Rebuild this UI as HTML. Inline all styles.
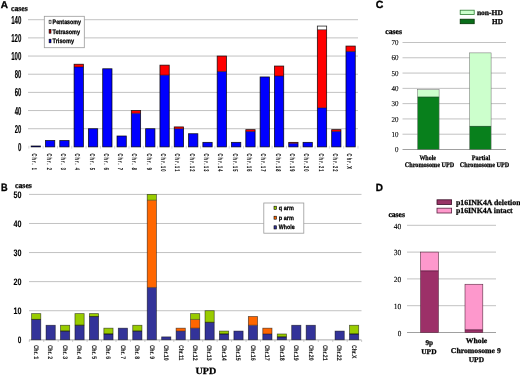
<!DOCTYPE html>
<html><head><meta charset="utf-8"><title>UPD figure</title>
<style>
html,body{margin:0;padding:0;background:#fff;}
body{width:520px;height:375px;overflow:hidden;font-family:"Liberation Sans", sans-serif;}
svg{display:block;will-change:transform;text-rendering:geometricPrecision;filter:blur(0.3px);}
</style></head>
<body>
<svg width="520" height="375" viewBox="0 0 520 375">
<rect x="0" y="0" width="520" height="375" fill="#fff"/>
<text x="0.8" y="7.9" font-size="10" font-family='"Liberation Sans", sans-serif' font-weight="bold" textLength="7.2" lengthAdjust="spacingAndGlyphs" stroke="#000" stroke-width="0.35">A</text>
<text x="11" y="10.8" font-size="8" font-family='"Liberation Serif", serif' font-weight="bold" textLength="16.7" lengthAdjust="spacingAndGlyphs" stroke="#000" stroke-width="0.26">cases</text>
<line x1="28" y1="128.73" x2="358" y2="128.73" stroke="#c2c2c2" stroke-width="1"/>
<line x1="28" y1="110.56" x2="358" y2="110.56" stroke="#c2c2c2" stroke-width="1"/>
<line x1="28" y1="92.39" x2="358" y2="92.39" stroke="#c2c2c2" stroke-width="1"/>
<line x1="28" y1="74.22" x2="358" y2="74.22" stroke="#c2c2c2" stroke-width="1"/>
<line x1="28" y1="56.05" x2="358" y2="56.05" stroke="#c2c2c2" stroke-width="1"/>
<line x1="28" y1="37.88" x2="358" y2="37.88" stroke="#c2c2c2" stroke-width="1"/>
<line x1="28" y1="19.71" x2="358" y2="19.71" stroke="#c2c2c2" stroke-width="1"/>
<line x1="28.85" y1="145.8" x2="28.85" y2="148.6" stroke="#c4c4c4" stroke-width="0.7"/>
<line x1="43.16" y1="145.8" x2="43.16" y2="148.6" stroke="#c4c4c4" stroke-width="0.7"/>
<line x1="57.47" y1="145.8" x2="57.47" y2="148.6" stroke="#c4c4c4" stroke-width="0.7"/>
<line x1="71.78" y1="145.8" x2="71.78" y2="148.6" stroke="#c4c4c4" stroke-width="0.7"/>
<line x1="86.09" y1="145.8" x2="86.09" y2="148.6" stroke="#c4c4c4" stroke-width="0.7"/>
<line x1="100.4" y1="145.8" x2="100.4" y2="148.6" stroke="#c4c4c4" stroke-width="0.7"/>
<line x1="114.71" y1="145.8" x2="114.71" y2="148.6" stroke="#c4c4c4" stroke-width="0.7"/>
<line x1="129.02" y1="145.8" x2="129.02" y2="148.6" stroke="#c4c4c4" stroke-width="0.7"/>
<line x1="143.33" y1="145.8" x2="143.33" y2="148.6" stroke="#c4c4c4" stroke-width="0.7"/>
<line x1="157.64" y1="145.8" x2="157.64" y2="148.6" stroke="#c4c4c4" stroke-width="0.7"/>
<line x1="171.95" y1="145.8" x2="171.95" y2="148.6" stroke="#c4c4c4" stroke-width="0.7"/>
<line x1="186.26" y1="145.8" x2="186.26" y2="148.6" stroke="#c4c4c4" stroke-width="0.7"/>
<line x1="200.57" y1="145.8" x2="200.57" y2="148.6" stroke="#c4c4c4" stroke-width="0.7"/>
<line x1="214.88" y1="145.8" x2="214.88" y2="148.6" stroke="#c4c4c4" stroke-width="0.7"/>
<line x1="229.19" y1="145.8" x2="229.19" y2="148.6" stroke="#c4c4c4" stroke-width="0.7"/>
<line x1="243.5" y1="145.8" x2="243.5" y2="148.6" stroke="#c4c4c4" stroke-width="0.7"/>
<line x1="257.81" y1="145.8" x2="257.81" y2="148.6" stroke="#c4c4c4" stroke-width="0.7"/>
<line x1="272.12" y1="145.8" x2="272.12" y2="148.6" stroke="#c4c4c4" stroke-width="0.7"/>
<line x1="286.43" y1="145.8" x2="286.43" y2="148.6" stroke="#c4c4c4" stroke-width="0.7"/>
<line x1="300.74" y1="145.8" x2="300.74" y2="148.6" stroke="#c4c4c4" stroke-width="0.7"/>
<line x1="315.05" y1="145.8" x2="315.05" y2="148.6" stroke="#c4c4c4" stroke-width="0.7"/>
<line x1="329.36" y1="145.8" x2="329.36" y2="148.6" stroke="#c4c4c4" stroke-width="0.7"/>
<line x1="343.67" y1="145.8" x2="343.67" y2="148.6" stroke="#c4c4c4" stroke-width="0.7"/>
<line x1="357.98" y1="145.8" x2="357.98" y2="148.6" stroke="#c4c4c4" stroke-width="0.7"/>
<text x="18" y="150.9" font-size="11.5" font-family='"Liberation Sans", sans-serif' font-weight="bold" textLength="3.4" lengthAdjust="spacingAndGlyphs" stroke="#000" stroke-width="0.15">0</text>
<text x="14.8" y="132.73" font-size="11.5" font-family='"Liberation Sans", sans-serif' font-weight="bold" textLength="6.6" lengthAdjust="spacingAndGlyphs" stroke="#000" stroke-width="0.15">20</text>
<text x="14.8" y="114.56" font-size="11.5" font-family='"Liberation Sans", sans-serif' font-weight="bold" textLength="6.6" lengthAdjust="spacingAndGlyphs" stroke="#000" stroke-width="0.15">40</text>
<text x="14.8" y="96.39" font-size="11.5" font-family='"Liberation Sans", sans-serif' font-weight="bold" textLength="6.6" lengthAdjust="spacingAndGlyphs" stroke="#000" stroke-width="0.15">60</text>
<text x="14.8" y="78.22" font-size="11.5" font-family='"Liberation Sans", sans-serif' font-weight="bold" textLength="6.6" lengthAdjust="spacingAndGlyphs" stroke="#000" stroke-width="0.15">80</text>
<text x="11.2" y="60.05" font-size="11.5" font-family='"Liberation Sans", sans-serif' font-weight="bold" textLength="10.2" lengthAdjust="spacingAndGlyphs" stroke="#000" stroke-width="0.15">100</text>
<text x="11.2" y="41.88" font-size="11.5" font-family='"Liberation Sans", sans-serif' font-weight="bold" textLength="10.2" lengthAdjust="spacingAndGlyphs" stroke="#000" stroke-width="0.15">120</text>
<text x="11.2" y="23.71" font-size="11.5" font-family='"Liberation Sans", sans-serif' font-weight="bold" textLength="10.2" lengthAdjust="spacingAndGlyphs" stroke="#000" stroke-width="0.15">140</text>
<rect x="31.15" y="145.99" width="9.3" height="0.91" fill="#0000ff"/>
<rect x="31.15" y="145.99" width="9.3" height="0.91" fill="none" stroke="#000" stroke-width="0.8" stroke-opacity="0.85"/>
<rect x="45.46" y="140.54" width="9.3" height="6.36" fill="#0000ff"/>
<rect x="45.46" y="140.54" width="9.3" height="6.36" fill="none" stroke="#000" stroke-width="0.8" stroke-opacity="0.85"/>
<rect x="59.77" y="140.54" width="9.3" height="6.36" fill="#0000ff"/>
<rect x="59.77" y="140.54" width="9.3" height="6.36" fill="none" stroke="#000" stroke-width="0.8" stroke-opacity="0.85"/>
<rect x="74.08" y="66.95" width="9.3" height="79.95" fill="#0000ff"/>
<rect x="74.08" y="64.23" width="9.3" height="2.73" fill="#ff0000"/>
<line x1="74.08" y1="66.95" x2="83.38" y2="66.95" stroke="#000" stroke-opacity="0.7" stroke-width="0.7"/>
<rect x="74.08" y="64.23" width="9.3" height="82.67" fill="none" stroke="#000" stroke-width="0.8" stroke-opacity="0.85"/>
<rect x="88.39" y="128.73" width="9.3" height="18.17" fill="#0000ff"/>
<rect x="88.39" y="128.73" width="9.3" height="18.17" fill="none" stroke="#000" stroke-width="0.8" stroke-opacity="0.85"/>
<rect x="102.7" y="68.77" width="9.3" height="78.13" fill="#0000ff"/>
<rect x="102.7" y="68.77" width="9.3" height="78.13" fill="none" stroke="#000" stroke-width="0.8" stroke-opacity="0.85"/>
<rect x="117.01" y="136" width="9.3" height="10.9" fill="#0000ff"/>
<rect x="117.01" y="136" width="9.3" height="10.9" fill="none" stroke="#000" stroke-width="0.8" stroke-opacity="0.85"/>
<rect x="131.32" y="113.29" width="9.3" height="33.61" fill="#0000ff"/>
<rect x="131.32" y="110.56" width="9.3" height="2.73" fill="#ff0000"/>
<line x1="131.32" y1="113.29" x2="140.62" y2="113.29" stroke="#000" stroke-opacity="0.7" stroke-width="0.7"/>
<rect x="131.32" y="110.56" width="9.3" height="36.34" fill="none" stroke="#000" stroke-width="0.8" stroke-opacity="0.85"/>
<rect x="145.63" y="128.73" width="9.3" height="18.17" fill="#0000ff"/>
<rect x="145.63" y="128.73" width="9.3" height="18.17" fill="none" stroke="#000" stroke-width="0.8" stroke-opacity="0.85"/>
<rect x="159.94" y="75.13" width="9.3" height="71.77" fill="#0000ff"/>
<rect x="159.94" y="65.14" width="9.3" height="9.99" fill="#ff0000"/>
<line x1="159.94" y1="75.13" x2="169.24" y2="75.13" stroke="#000" stroke-opacity="0.7" stroke-width="0.7"/>
<rect x="159.94" y="65.14" width="9.3" height="81.77" fill="none" stroke="#000" stroke-width="0.8" stroke-opacity="0.85"/>
<rect x="174.25" y="128.73" width="9.3" height="18.17" fill="#0000ff"/>
<rect x="174.25" y="126.91" width="9.3" height="1.82" fill="#ff0000"/>
<line x1="174.25" y1="128.73" x2="183.55" y2="128.73" stroke="#000" stroke-opacity="0.7" stroke-width="0.7"/>
<rect x="174.25" y="126.91" width="9.3" height="19.99" fill="none" stroke="#000" stroke-width="0.8" stroke-opacity="0.85"/>
<rect x="188.56" y="133.73" width="9.3" height="13.17" fill="#0000ff"/>
<rect x="188.56" y="133.73" width="9.3" height="13.17" fill="none" stroke="#000" stroke-width="0.8" stroke-opacity="0.85"/>
<rect x="202.87" y="142.36" width="9.3" height="4.54" fill="#0000ff"/>
<rect x="202.87" y="142.36" width="9.3" height="4.54" fill="none" stroke="#000" stroke-width="0.8" stroke-opacity="0.85"/>
<rect x="217.18" y="71.49" width="9.3" height="75.41" fill="#0000ff"/>
<rect x="217.18" y="56.05" width="9.3" height="15.44" fill="#ff0000"/>
<line x1="217.18" y1="71.49" x2="226.48" y2="71.49" stroke="#000" stroke-opacity="0.7" stroke-width="0.7"/>
<rect x="217.18" y="56.05" width="9.3" height="90.85" fill="none" stroke="#000" stroke-width="0.8" stroke-opacity="0.85"/>
<rect x="231.49" y="142.36" width="9.3" height="4.54" fill="#0000ff"/>
<rect x="231.49" y="142.36" width="9.3" height="4.54" fill="none" stroke="#000" stroke-width="0.8" stroke-opacity="0.85"/>
<rect x="245.8" y="131.46" width="9.3" height="15.44" fill="#0000ff"/>
<rect x="245.8" y="129.64" width="9.3" height="1.82" fill="#ff0000"/>
<line x1="245.8" y1="131.46" x2="255.1" y2="131.46" stroke="#000" stroke-opacity="0.7" stroke-width="0.7"/>
<rect x="245.8" y="129.64" width="9.3" height="17.26" fill="none" stroke="#000" stroke-width="0.8" stroke-opacity="0.85"/>
<rect x="260.11" y="76.95" width="9.3" height="69.95" fill="#0000ff"/>
<rect x="260.11" y="76.95" width="9.3" height="69.95" fill="none" stroke="#000" stroke-width="0.8" stroke-opacity="0.85"/>
<rect x="274.42" y="76.04" width="9.3" height="70.86" fill="#0000ff"/>
<rect x="274.42" y="66.04" width="9.3" height="9.99" fill="#ff0000"/>
<line x1="274.42" y1="76.04" x2="283.72" y2="76.04" stroke="#000" stroke-opacity="0.7" stroke-width="0.7"/>
<rect x="274.42" y="66.04" width="9.3" height="80.86" fill="none" stroke="#000" stroke-width="0.8" stroke-opacity="0.85"/>
<rect x="288.73" y="143.27" width="9.3" height="3.63" fill="#0000ff"/>
<rect x="288.73" y="142.36" width="9.3" height="0.91" fill="#ff0000"/>
<line x1="288.73" y1="143.27" x2="298.03" y2="143.27" stroke="#000" stroke-opacity="0.7" stroke-width="0.7"/>
<rect x="288.73" y="142.36" width="9.3" height="4.54" fill="none" stroke="#000" stroke-width="0.8" stroke-opacity="0.85"/>
<rect x="303.04" y="142.36" width="9.3" height="4.54" fill="#0000ff"/>
<rect x="303.04" y="142.36" width="9.3" height="4.54" fill="none" stroke="#000" stroke-width="0.8" stroke-opacity="0.85"/>
<rect x="317.35" y="107.83" width="9.3" height="39.07" fill="#0000ff"/>
<rect x="317.35" y="29.7" width="9.3" height="78.13" fill="#ff0000"/>
<rect x="317.35" y="26.07" width="9.3" height="3.63" fill="#ffffff"/>
<line x1="317.35" y1="107.83" x2="326.65" y2="107.83" stroke="#000" stroke-opacity="0.7" stroke-width="0.7"/>
<line x1="317.35" y1="29.7" x2="326.65" y2="29.7" stroke="#000" stroke-opacity="0.7" stroke-width="0.7"/>
<rect x="317.35" y="26.07" width="9.3" height="120.83" fill="none" stroke="#000" stroke-width="0.8" stroke-opacity="0.85"/>
<rect x="331.66" y="131.46" width="9.3" height="15.44" fill="#0000ff"/>
<rect x="331.66" y="129.64" width="9.3" height="1.82" fill="#ff0000"/>
<line x1="331.66" y1="131.46" x2="340.96" y2="131.46" stroke="#000" stroke-opacity="0.7" stroke-width="0.7"/>
<rect x="331.66" y="129.64" width="9.3" height="17.26" fill="none" stroke="#000" stroke-width="0.8" stroke-opacity="0.85"/>
<rect x="345.97" y="51.51" width="9.3" height="95.39" fill="#0000ff"/>
<rect x="345.97" y="46.06" width="9.3" height="5.45" fill="#ff0000"/>
<line x1="345.97" y1="51.51" x2="355.27" y2="51.51" stroke="#000" stroke-opacity="0.7" stroke-width="0.7"/>
<rect x="345.97" y="46.06" width="9.3" height="100.84" fill="none" stroke="#000" stroke-width="0.8" stroke-opacity="0.85"/>
<text transform="translate(32.3,153.6) rotate(90) scale(0.55,1)" font-size="7" font-family='"Liberation Sans", sans-serif' font-weight="bold" fill="#111" stroke="#111" stroke-width="0.12" vector-effect="non-scaling-stroke" textLength="29.82" lengthAdjust="spacing">Chr. 1</text>
<text transform="translate(46.61,153.6) rotate(90) scale(0.55,1)" font-size="7" font-family='"Liberation Sans", sans-serif' font-weight="bold" fill="#111" stroke="#111" stroke-width="0.12" vector-effect="non-scaling-stroke" textLength="29.82" lengthAdjust="spacing">Chr. 2</text>
<text transform="translate(60.92,153.6) rotate(90) scale(0.55,1)" font-size="7" font-family='"Liberation Sans", sans-serif' font-weight="bold" fill="#111" stroke="#111" stroke-width="0.12" vector-effect="non-scaling-stroke" textLength="29.82" lengthAdjust="spacing">Chr. 3</text>
<text transform="translate(75.23,153.6) rotate(90) scale(0.55,1)" font-size="7" font-family='"Liberation Sans", sans-serif' font-weight="bold" fill="#111" stroke="#111" stroke-width="0.12" vector-effect="non-scaling-stroke" textLength="29.82" lengthAdjust="spacing">Chr. 4</text>
<text transform="translate(89.54,153.6) rotate(90) scale(0.55,1)" font-size="7" font-family='"Liberation Sans", sans-serif' font-weight="bold" fill="#111" stroke="#111" stroke-width="0.12" vector-effect="non-scaling-stroke" textLength="29.82" lengthAdjust="spacing">Chr. 5</text>
<text transform="translate(103.85,153.6) rotate(90) scale(0.55,1)" font-size="7" font-family='"Liberation Sans", sans-serif' font-weight="bold" fill="#111" stroke="#111" stroke-width="0.12" vector-effect="non-scaling-stroke" textLength="29.82" lengthAdjust="spacing">Chr. 6</text>
<text transform="translate(118.16,153.6) rotate(90) scale(0.55,1)" font-size="7" font-family='"Liberation Sans", sans-serif' font-weight="bold" fill="#111" stroke="#111" stroke-width="0.12" vector-effect="non-scaling-stroke" textLength="29.82" lengthAdjust="spacing">Chr. 7</text>
<text transform="translate(132.47,153.6) rotate(90) scale(0.55,1)" font-size="7" font-family='"Liberation Sans", sans-serif' font-weight="bold" fill="#111" stroke="#111" stroke-width="0.12" vector-effect="non-scaling-stroke" textLength="29.82" lengthAdjust="spacing">Chr. 8</text>
<text transform="translate(146.78,153.6) rotate(90) scale(0.55,1)" font-size="7" font-family='"Liberation Sans", sans-serif' font-weight="bold" fill="#111" stroke="#111" stroke-width="0.12" vector-effect="non-scaling-stroke" textLength="29.82" lengthAdjust="spacing">Chr. 9</text>
<text transform="translate(161.09,153.6) rotate(90) scale(0.55,1)" font-size="7" font-family='"Liberation Sans", sans-serif' font-weight="bold" fill="#111" stroke="#111" stroke-width="0.12" vector-effect="non-scaling-stroke" textLength="32.36" lengthAdjust="spacing">Chr.10</text>
<text transform="translate(175.4,153.6) rotate(90) scale(0.55,1)" font-size="7" font-family='"Liberation Sans", sans-serif' font-weight="bold" fill="#111" stroke="#111" stroke-width="0.12" vector-effect="non-scaling-stroke" textLength="32.36" lengthAdjust="spacing">Chr.11</text>
<text transform="translate(189.71,153.6) rotate(90) scale(0.55,1)" font-size="7" font-family='"Liberation Sans", sans-serif' font-weight="bold" fill="#111" stroke="#111" stroke-width="0.12" vector-effect="non-scaling-stroke" textLength="32.36" lengthAdjust="spacing">Chr.12</text>
<text transform="translate(204.02,153.6) rotate(90) scale(0.55,1)" font-size="7" font-family='"Liberation Sans", sans-serif' font-weight="bold" fill="#111" stroke="#111" stroke-width="0.12" vector-effect="non-scaling-stroke" textLength="32.36" lengthAdjust="spacing">Chr.13</text>
<text transform="translate(218.33,153.6) rotate(90) scale(0.55,1)" font-size="7" font-family='"Liberation Sans", sans-serif' font-weight="bold" fill="#111" stroke="#111" stroke-width="0.12" vector-effect="non-scaling-stroke" textLength="32.36" lengthAdjust="spacing">Chr.14</text>
<text transform="translate(232.64,153.6) rotate(90) scale(0.55,1)" font-size="7" font-family='"Liberation Sans", sans-serif' font-weight="bold" fill="#111" stroke="#111" stroke-width="0.12" vector-effect="non-scaling-stroke" textLength="32.36" lengthAdjust="spacing">Chr.15</text>
<text transform="translate(246.95,153.6) rotate(90) scale(0.55,1)" font-size="7" font-family='"Liberation Sans", sans-serif' font-weight="bold" fill="#111" stroke="#111" stroke-width="0.12" vector-effect="non-scaling-stroke" textLength="32.36" lengthAdjust="spacing">Chr.16</text>
<text transform="translate(261.26,153.6) rotate(90) scale(0.55,1)" font-size="7" font-family='"Liberation Sans", sans-serif' font-weight="bold" fill="#111" stroke="#111" stroke-width="0.12" vector-effect="non-scaling-stroke" textLength="32.36" lengthAdjust="spacing">Chr.17</text>
<text transform="translate(275.57,153.6) rotate(90) scale(0.55,1)" font-size="7" font-family='"Liberation Sans", sans-serif' font-weight="bold" fill="#111" stroke="#111" stroke-width="0.12" vector-effect="non-scaling-stroke" textLength="32.36" lengthAdjust="spacing">Chr.18</text>
<text transform="translate(289.88,153.6) rotate(90) scale(0.55,1)" font-size="7" font-family='"Liberation Sans", sans-serif' font-weight="bold" fill="#111" stroke="#111" stroke-width="0.12" vector-effect="non-scaling-stroke" textLength="32.36" lengthAdjust="spacing">Chr.19</text>
<text transform="translate(304.19,153.6) rotate(90) scale(0.55,1)" font-size="7" font-family='"Liberation Sans", sans-serif' font-weight="bold" fill="#111" stroke="#111" stroke-width="0.12" vector-effect="non-scaling-stroke" textLength="32.36" lengthAdjust="spacing">Chr.20</text>
<text transform="translate(318.5,153.6) rotate(90) scale(0.55,1)" font-size="7" font-family='"Liberation Sans", sans-serif' font-weight="bold" fill="#111" stroke="#111" stroke-width="0.12" vector-effect="non-scaling-stroke" textLength="32.36" lengthAdjust="spacing">Chr.21</text>
<text transform="translate(332.81,153.6) rotate(90) scale(0.55,1)" font-size="7" font-family='"Liberation Sans", sans-serif' font-weight="bold" fill="#111" stroke="#111" stroke-width="0.12" vector-effect="non-scaling-stroke" textLength="32.36" lengthAdjust="spacing">Chr.22</text>
<text transform="translate(347.12,153.6) rotate(90) scale(0.55,1)" font-size="7" font-family='"Liberation Sans", sans-serif' font-weight="bold" fill="#111" stroke="#111" stroke-width="0.12" vector-effect="non-scaling-stroke" textLength="27.82" lengthAdjust="spacing">Chr.X</text>
<rect x="44.3" y="16.3" width="40" height="31.4" fill="#fff" stroke="#9a9a9a" stroke-width="0.8"/>
<rect x="49.1" y="20.2" width="1.9" height="3.3" fill="#fff" stroke="#000" stroke-width="0.6"/>
<rect x="49.1" y="29.6" width="1.9" height="3.6" fill="#b00000" stroke="#000" stroke-width="0.6"/>
<rect x="49.1" y="39.2" width="1.9" height="3.6" fill="#0000d0" stroke="#000" stroke-width="0.6"/>
<text x="52.6" y="23.6" font-size="6.4" font-family='"Liberation Sans", sans-serif' font-weight="bold" textLength="28.4" lengthAdjust="spacingAndGlyphs" stroke="#000" stroke-width="0.26">Pentasomy</text>
<text x="52.6" y="33.6" font-size="6.4" font-family='"Liberation Sans", sans-serif' font-weight="bold" textLength="27.4" lengthAdjust="spacingAndGlyphs" stroke="#000" stroke-width="0.26">Tetrasomy</text>
<text x="52.6" y="42.9" font-size="6.4" font-family='"Liberation Sans", sans-serif' font-weight="bold" textLength="21.4" lengthAdjust="spacingAndGlyphs" stroke="#000" stroke-width="0.26">Trisomy</text>
<text x="0.9" y="191" font-size="10.6" font-family='"Liberation Sans", sans-serif' font-weight="bold" textLength="6.6" lengthAdjust="spacingAndGlyphs" stroke="#000" stroke-width="0.35">B</text>
<text x="15" y="188.4" font-size="8" font-family='"Liberation Serif", serif' font-weight="bold" textLength="16.9" lengthAdjust="spacingAndGlyphs" stroke="#000" stroke-width="0.26">cases</text>
<line x1="29" y1="310.72" x2="361.5" y2="310.72" stroke="#c2c2c2" stroke-width="1"/>
<line x1="29" y1="281.64" x2="361.5" y2="281.64" stroke="#c2c2c2" stroke-width="1"/>
<line x1="29" y1="252.56" x2="361.5" y2="252.56" stroke="#c2c2c2" stroke-width="1"/>
<line x1="29" y1="223.48" x2="361.5" y2="223.48" stroke="#c2c2c2" stroke-width="1"/>
<line x1="29" y1="194.4" x2="361.5" y2="194.4" stroke="#c2c2c2" stroke-width="1"/>
<line x1="29" y1="339.9" x2="361.5" y2="339.9" stroke="#aaaaaa" stroke-width="1"/>
<line x1="29.3" y1="340" x2="29.3" y2="342" stroke="#aaa" stroke-width="0.6"/>
<line x1="43.75" y1="340" x2="43.75" y2="342" stroke="#aaa" stroke-width="0.6"/>
<line x1="58.2" y1="340" x2="58.2" y2="342" stroke="#aaa" stroke-width="0.6"/>
<line x1="72.65" y1="340" x2="72.65" y2="342" stroke="#aaa" stroke-width="0.6"/>
<line x1="87.1" y1="340" x2="87.1" y2="342" stroke="#aaa" stroke-width="0.6"/>
<line x1="101.55" y1="340" x2="101.55" y2="342" stroke="#aaa" stroke-width="0.6"/>
<line x1="116" y1="340" x2="116" y2="342" stroke="#aaa" stroke-width="0.6"/>
<line x1="130.45" y1="340" x2="130.45" y2="342" stroke="#aaa" stroke-width="0.6"/>
<line x1="144.9" y1="340" x2="144.9" y2="342" stroke="#aaa" stroke-width="0.6"/>
<line x1="159.35" y1="340" x2="159.35" y2="342" stroke="#aaa" stroke-width="0.6"/>
<line x1="173.8" y1="340" x2="173.8" y2="342" stroke="#aaa" stroke-width="0.6"/>
<line x1="188.25" y1="340" x2="188.25" y2="342" stroke="#aaa" stroke-width="0.6"/>
<line x1="202.7" y1="340" x2="202.7" y2="342" stroke="#aaa" stroke-width="0.6"/>
<line x1="217.15" y1="340" x2="217.15" y2="342" stroke="#aaa" stroke-width="0.6"/>
<line x1="231.6" y1="340" x2="231.6" y2="342" stroke="#aaa" stroke-width="0.6"/>
<line x1="246.05" y1="340" x2="246.05" y2="342" stroke="#aaa" stroke-width="0.6"/>
<line x1="260.5" y1="340" x2="260.5" y2="342" stroke="#aaa" stroke-width="0.6"/>
<line x1="274.95" y1="340" x2="274.95" y2="342" stroke="#aaa" stroke-width="0.6"/>
<line x1="289.4" y1="340" x2="289.4" y2="342" stroke="#aaa" stroke-width="0.6"/>
<line x1="303.85" y1="340" x2="303.85" y2="342" stroke="#aaa" stroke-width="0.6"/>
<line x1="318.3" y1="340" x2="318.3" y2="342" stroke="#aaa" stroke-width="0.6"/>
<line x1="332.75" y1="340" x2="332.75" y2="342" stroke="#aaa" stroke-width="0.6"/>
<line x1="347.2" y1="340" x2="347.2" y2="342" stroke="#aaa" stroke-width="0.6"/>
<line x1="361.65" y1="340" x2="361.65" y2="342" stroke="#aaa" stroke-width="0.6"/>
<text x="17.8" y="343.15" font-size="9.4" font-family='"Liberation Sans", sans-serif' font-weight="bold" textLength="3.6" lengthAdjust="spacingAndGlyphs" stroke="#000" stroke-width="0.12">0</text>
<text x="13.4" y="314.07" font-size="9.4" font-family='"Liberation Sans", sans-serif' font-weight="bold" textLength="8" lengthAdjust="spacingAndGlyphs" stroke="#000" stroke-width="0.12">10</text>
<text x="13.4" y="284.99" font-size="9.4" font-family='"Liberation Sans", sans-serif' font-weight="bold" textLength="8" lengthAdjust="spacingAndGlyphs" stroke="#000" stroke-width="0.12">20</text>
<text x="13.4" y="255.91" font-size="9.4" font-family='"Liberation Sans", sans-serif' font-weight="bold" textLength="8" lengthAdjust="spacingAndGlyphs" stroke="#000" stroke-width="0.12">30</text>
<text x="13.4" y="226.83" font-size="9.4" font-family='"Liberation Sans", sans-serif' font-weight="bold" textLength="8" lengthAdjust="spacingAndGlyphs" stroke="#000" stroke-width="0.12">40</text>
<text x="13.4" y="197.75" font-size="9.4" font-family='"Liberation Sans", sans-serif' font-weight="bold" textLength="8" lengthAdjust="spacingAndGlyphs" stroke="#000" stroke-width="0.12">50</text>
<rect x="31.6" y="319.44" width="9.2" height="20.36" fill="#333399"/>
<rect x="31.6" y="313.63" width="9.2" height="5.82" fill="#99cc00"/>
<line x1="31.6" y1="319.44" x2="40.8" y2="319.44" stroke="#000" stroke-opacity="0.6" stroke-width="0.7"/>
<line x1="31.6" y1="319.44" x2="40.8" y2="319.44" stroke="#000" stroke-opacity="0.6" stroke-width="0.7"/>
<rect x="31.6" y="313.63" width="9.2" height="26.17" fill="none" stroke="#000" stroke-width="0.75" stroke-opacity="0.6"/>
<rect x="46.05" y="325.26" width="9.2" height="14.54" fill="#333399"/>
<rect x="46.05" y="325.26" width="9.2" height="14.54" fill="none" stroke="#000" stroke-width="0.75" stroke-opacity="0.6"/>
<rect x="60.5" y="331.08" width="9.2" height="8.72" fill="#333399"/>
<rect x="60.5" y="325.26" width="9.2" height="5.82" fill="#99cc00"/>
<line x1="60.5" y1="331.08" x2="69.7" y2="331.08" stroke="#000" stroke-opacity="0.6" stroke-width="0.7"/>
<line x1="60.5" y1="331.08" x2="69.7" y2="331.08" stroke="#000" stroke-opacity="0.6" stroke-width="0.7"/>
<rect x="60.5" y="325.26" width="9.2" height="14.54" fill="none" stroke="#000" stroke-width="0.75" stroke-opacity="0.6"/>
<rect x="74.95" y="325.26" width="9.2" height="14.54" fill="#333399"/>
<rect x="74.95" y="313.63" width="9.2" height="11.63" fill="#99cc00"/>
<line x1="74.95" y1="325.26" x2="84.15" y2="325.26" stroke="#000" stroke-opacity="0.6" stroke-width="0.7"/>
<line x1="74.95" y1="325.26" x2="84.15" y2="325.26" stroke="#000" stroke-opacity="0.6" stroke-width="0.7"/>
<rect x="74.95" y="313.63" width="9.2" height="26.17" fill="none" stroke="#000" stroke-width="0.75" stroke-opacity="0.6"/>
<rect x="89.4" y="316.54" width="9.2" height="23.26" fill="#333399"/>
<rect x="89.4" y="313.63" width="9.2" height="2.91" fill="#99cc00"/>
<line x1="89.4" y1="316.54" x2="98.6" y2="316.54" stroke="#000" stroke-opacity="0.6" stroke-width="0.7"/>
<line x1="89.4" y1="316.54" x2="98.6" y2="316.54" stroke="#000" stroke-opacity="0.6" stroke-width="0.7"/>
<rect x="89.4" y="313.63" width="9.2" height="26.17" fill="none" stroke="#000" stroke-width="0.75" stroke-opacity="0.6"/>
<rect x="103.85" y="333.98" width="9.2" height="5.82" fill="#333399"/>
<rect x="103.85" y="328.17" width="9.2" height="5.82" fill="#99cc00"/>
<line x1="103.85" y1="333.98" x2="113.05" y2="333.98" stroke="#000" stroke-opacity="0.6" stroke-width="0.7"/>
<line x1="103.85" y1="333.98" x2="113.05" y2="333.98" stroke="#000" stroke-opacity="0.6" stroke-width="0.7"/>
<rect x="103.85" y="328.17" width="9.2" height="11.63" fill="none" stroke="#000" stroke-width="0.75" stroke-opacity="0.6"/>
<rect x="118.3" y="328.17" width="9.2" height="11.63" fill="#333399"/>
<rect x="118.3" y="328.17" width="9.2" height="11.63" fill="none" stroke="#000" stroke-width="0.75" stroke-opacity="0.6"/>
<rect x="132.75" y="331.08" width="9.2" height="8.72" fill="#333399"/>
<rect x="132.75" y="325.26" width="9.2" height="5.82" fill="#99cc00"/>
<line x1="132.75" y1="331.08" x2="141.95" y2="331.08" stroke="#000" stroke-opacity="0.6" stroke-width="0.7"/>
<line x1="132.75" y1="331.08" x2="141.95" y2="331.08" stroke="#000" stroke-opacity="0.6" stroke-width="0.7"/>
<rect x="132.75" y="325.26" width="9.2" height="14.54" fill="none" stroke="#000" stroke-width="0.75" stroke-opacity="0.6"/>
<rect x="147.2" y="287.46" width="9.2" height="52.34" fill="#333399"/>
<rect x="147.2" y="200.22" width="9.2" height="87.24" fill="#ff6600"/>
<rect x="147.2" y="194.4" width="9.2" height="5.82" fill="#99cc00"/>
<line x1="147.2" y1="287.46" x2="156.4" y2="287.46" stroke="#000" stroke-opacity="0.6" stroke-width="0.7"/>
<line x1="147.2" y1="200.22" x2="156.4" y2="200.22" stroke="#000" stroke-opacity="0.6" stroke-width="0.7"/>
<rect x="147.2" y="194.4" width="9.2" height="145.4" fill="none" stroke="#000" stroke-width="0.75" stroke-opacity="0.6"/>
<rect x="161.65" y="336.89" width="9.2" height="2.91" fill="#333399"/>
<rect x="161.65" y="336.89" width="9.2" height="2.91" fill="none" stroke="#000" stroke-width="0.75" stroke-opacity="0.6"/>
<rect x="176.1" y="331.08" width="9.2" height="8.72" fill="#333399"/>
<rect x="176.1" y="328.17" width="9.2" height="2.91" fill="#ff6600"/>
<line x1="176.1" y1="331.08" x2="185.3" y2="331.08" stroke="#000" stroke-opacity="0.6" stroke-width="0.7"/>
<rect x="176.1" y="328.17" width="9.2" height="11.63" fill="none" stroke="#000" stroke-width="0.75" stroke-opacity="0.6"/>
<rect x="190.55" y="328.17" width="9.2" height="11.63" fill="#333399"/>
<rect x="190.55" y="319.44" width="9.2" height="8.72" fill="#ff6600"/>
<rect x="190.55" y="313.63" width="9.2" height="5.82" fill="#99cc00"/>
<line x1="190.55" y1="328.17" x2="199.75" y2="328.17" stroke="#000" stroke-opacity="0.6" stroke-width="0.7"/>
<line x1="190.55" y1="319.44" x2="199.75" y2="319.44" stroke="#000" stroke-opacity="0.6" stroke-width="0.7"/>
<rect x="190.55" y="313.63" width="9.2" height="26.17" fill="none" stroke="#000" stroke-width="0.75" stroke-opacity="0.6"/>
<rect x="205" y="322.35" width="9.2" height="17.45" fill="#333399"/>
<rect x="205" y="310.72" width="9.2" height="11.63" fill="#99cc00"/>
<line x1="205" y1="322.35" x2="214.2" y2="322.35" stroke="#000" stroke-opacity="0.6" stroke-width="0.7"/>
<line x1="205" y1="322.35" x2="214.2" y2="322.35" stroke="#000" stroke-opacity="0.6" stroke-width="0.7"/>
<rect x="205" y="310.72" width="9.2" height="29.08" fill="none" stroke="#000" stroke-width="0.75" stroke-opacity="0.6"/>
<rect x="219.45" y="333.98" width="9.2" height="5.82" fill="#333399"/>
<rect x="219.45" y="331.08" width="9.2" height="2.91" fill="#99cc00"/>
<line x1="219.45" y1="333.98" x2="228.65" y2="333.98" stroke="#000" stroke-opacity="0.6" stroke-width="0.7"/>
<line x1="219.45" y1="333.98" x2="228.65" y2="333.98" stroke="#000" stroke-opacity="0.6" stroke-width="0.7"/>
<rect x="219.45" y="331.08" width="9.2" height="8.72" fill="none" stroke="#000" stroke-width="0.75" stroke-opacity="0.6"/>
<rect x="233.9" y="331.08" width="9.2" height="8.72" fill="#333399"/>
<rect x="233.9" y="331.08" width="9.2" height="8.72" fill="none" stroke="#000" stroke-width="0.75" stroke-opacity="0.6"/>
<rect x="248.35" y="325.26" width="9.2" height="14.54" fill="#333399"/>
<rect x="248.35" y="316.54" width="9.2" height="8.72" fill="#ff6600"/>
<line x1="248.35" y1="325.26" x2="257.55" y2="325.26" stroke="#000" stroke-opacity="0.6" stroke-width="0.7"/>
<rect x="248.35" y="316.54" width="9.2" height="23.26" fill="none" stroke="#000" stroke-width="0.75" stroke-opacity="0.6"/>
<rect x="262.8" y="333.98" width="9.2" height="5.82" fill="#333399"/>
<rect x="262.8" y="328.17" width="9.2" height="5.82" fill="#ff6600"/>
<line x1="262.8" y1="333.98" x2="272" y2="333.98" stroke="#000" stroke-opacity="0.6" stroke-width="0.7"/>
<rect x="262.8" y="328.17" width="9.2" height="11.63" fill="none" stroke="#000" stroke-width="0.75" stroke-opacity="0.6"/>
<rect x="277.25" y="336.89" width="9.2" height="2.91" fill="#333399"/>
<rect x="277.25" y="333.98" width="9.2" height="2.91" fill="#99cc00"/>
<line x1="277.25" y1="336.89" x2="286.45" y2="336.89" stroke="#000" stroke-opacity="0.6" stroke-width="0.7"/>
<line x1="277.25" y1="336.89" x2="286.45" y2="336.89" stroke="#000" stroke-opacity="0.6" stroke-width="0.7"/>
<rect x="277.25" y="333.98" width="9.2" height="5.82" fill="none" stroke="#000" stroke-width="0.75" stroke-opacity="0.6"/>
<rect x="291.7" y="325.26" width="9.2" height="14.54" fill="#333399"/>
<rect x="291.7" y="325.26" width="9.2" height="14.54" fill="none" stroke="#000" stroke-width="0.75" stroke-opacity="0.6"/>
<rect x="306.15" y="325.26" width="9.2" height="14.54" fill="#333399"/>
<rect x="306.15" y="325.26" width="9.2" height="14.54" fill="none" stroke="#000" stroke-width="0.75" stroke-opacity="0.6"/>
<rect x="335.05" y="331.08" width="9.2" height="8.72" fill="#333399"/>
<rect x="335.05" y="331.08" width="9.2" height="8.72" fill="none" stroke="#000" stroke-width="0.75" stroke-opacity="0.6"/>
<rect x="349.5" y="333.98" width="9.2" height="5.82" fill="#333399"/>
<rect x="349.5" y="325.26" width="9.2" height="8.72" fill="#99cc00"/>
<line x1="349.5" y1="333.98" x2="358.7" y2="333.98" stroke="#000" stroke-opacity="0.6" stroke-width="0.7"/>
<line x1="349.5" y1="333.98" x2="358.7" y2="333.98" stroke="#000" stroke-opacity="0.6" stroke-width="0.7"/>
<rect x="349.5" y="325.26" width="9.2" height="14.54" fill="none" stroke="#000" stroke-width="0.75" stroke-opacity="0.6"/>
<text transform="translate(34,344.9) rotate(90)" font-size="6.6" font-family='"Liberation Sans", sans-serif' font-weight="bold" fill="#1a1a1a" stroke="#1a1a1a" stroke-width="0.08" textLength="14.2" lengthAdjust="spacingAndGlyphs">Chr. 1</text>
<text transform="translate(48.45,344.9) rotate(90)" font-size="6.6" font-family='"Liberation Sans", sans-serif' font-weight="bold" fill="#1a1a1a" stroke="#1a1a1a" stroke-width="0.08" textLength="14.2" lengthAdjust="spacingAndGlyphs">Chr. 2</text>
<text transform="translate(62.9,344.9) rotate(90)" font-size="6.6" font-family='"Liberation Sans", sans-serif' font-weight="bold" fill="#1a1a1a" stroke="#1a1a1a" stroke-width="0.08" textLength="14.2" lengthAdjust="spacingAndGlyphs">Chr. 3</text>
<text transform="translate(77.35,344.9) rotate(90)" font-size="6.6" font-family='"Liberation Sans", sans-serif' font-weight="bold" fill="#1a1a1a" stroke="#1a1a1a" stroke-width="0.08" textLength="14.2" lengthAdjust="spacingAndGlyphs">Chr. 4</text>
<text transform="translate(91.8,344.9) rotate(90)" font-size="6.6" font-family='"Liberation Sans", sans-serif' font-weight="bold" fill="#1a1a1a" stroke="#1a1a1a" stroke-width="0.08" textLength="14.2" lengthAdjust="spacingAndGlyphs">Chr. 5</text>
<text transform="translate(106.25,344.9) rotate(90)" font-size="6.6" font-family='"Liberation Sans", sans-serif' font-weight="bold" fill="#1a1a1a" stroke="#1a1a1a" stroke-width="0.08" textLength="14.2" lengthAdjust="spacingAndGlyphs">Chr. 6</text>
<text transform="translate(120.7,344.9) rotate(90)" font-size="6.6" font-family='"Liberation Sans", sans-serif' font-weight="bold" fill="#1a1a1a" stroke="#1a1a1a" stroke-width="0.08" textLength="14.2" lengthAdjust="spacingAndGlyphs">Chr. 7</text>
<text transform="translate(135.15,344.9) rotate(90)" font-size="6.6" font-family='"Liberation Sans", sans-serif' font-weight="bold" fill="#1a1a1a" stroke="#1a1a1a" stroke-width="0.08" textLength="14.2" lengthAdjust="spacingAndGlyphs">Chr. 8</text>
<text transform="translate(149.6,344.9) rotate(90)" font-size="6.6" font-family='"Liberation Sans", sans-serif' font-weight="bold" fill="#1a1a1a" stroke="#1a1a1a" stroke-width="0.08" textLength="14.2" lengthAdjust="spacingAndGlyphs">Chr. 9</text>
<text transform="translate(164.05,344.9) rotate(90)" font-size="6.6" font-family='"Liberation Sans", sans-serif' font-weight="bold" fill="#1a1a1a" stroke="#1a1a1a" stroke-width="0.08" textLength="15.6" lengthAdjust="spacingAndGlyphs">Chr.10</text>
<text transform="translate(178.5,344.9) rotate(90)" font-size="6.6" font-family='"Liberation Sans", sans-serif' font-weight="bold" fill="#1a1a1a" stroke="#1a1a1a" stroke-width="0.08" textLength="15.6" lengthAdjust="spacingAndGlyphs">Chr.11</text>
<text transform="translate(192.95,344.9) rotate(90)" font-size="6.6" font-family='"Liberation Sans", sans-serif' font-weight="bold" fill="#1a1a1a" stroke="#1a1a1a" stroke-width="0.08" textLength="15.6" lengthAdjust="spacingAndGlyphs">Chr.12</text>
<text transform="translate(207.4,344.9) rotate(90)" font-size="6.6" font-family='"Liberation Sans", sans-serif' font-weight="bold" fill="#1a1a1a" stroke="#1a1a1a" stroke-width="0.08" textLength="15.6" lengthAdjust="spacingAndGlyphs">Chr.13</text>
<text transform="translate(221.85,344.9) rotate(90)" font-size="6.6" font-family='"Liberation Sans", sans-serif' font-weight="bold" fill="#1a1a1a" stroke="#1a1a1a" stroke-width="0.08" textLength="15.6" lengthAdjust="spacingAndGlyphs">Chr.14</text>
<text transform="translate(236.3,344.9) rotate(90)" font-size="6.6" font-family='"Liberation Sans", sans-serif' font-weight="bold" fill="#1a1a1a" stroke="#1a1a1a" stroke-width="0.08" textLength="15.6" lengthAdjust="spacingAndGlyphs">Chr.15</text>
<text transform="translate(250.75,344.9) rotate(90)" font-size="6.6" font-family='"Liberation Sans", sans-serif' font-weight="bold" fill="#1a1a1a" stroke="#1a1a1a" stroke-width="0.08" textLength="15.6" lengthAdjust="spacingAndGlyphs">Chr.16</text>
<text transform="translate(265.2,344.9) rotate(90)" font-size="6.6" font-family='"Liberation Sans", sans-serif' font-weight="bold" fill="#1a1a1a" stroke="#1a1a1a" stroke-width="0.08" textLength="15.6" lengthAdjust="spacingAndGlyphs">Chr.17</text>
<text transform="translate(279.65,344.9) rotate(90)" font-size="6.6" font-family='"Liberation Sans", sans-serif' font-weight="bold" fill="#1a1a1a" stroke="#1a1a1a" stroke-width="0.08" textLength="15.6" lengthAdjust="spacingAndGlyphs">Chr.18</text>
<text transform="translate(294.1,344.9) rotate(90)" font-size="6.6" font-family='"Liberation Sans", sans-serif' font-weight="bold" fill="#1a1a1a" stroke="#1a1a1a" stroke-width="0.08" textLength="15.6" lengthAdjust="spacingAndGlyphs">Chr.19</text>
<text transform="translate(308.55,344.9) rotate(90)" font-size="6.6" font-family='"Liberation Sans", sans-serif' font-weight="bold" fill="#1a1a1a" stroke="#1a1a1a" stroke-width="0.08" textLength="15.6" lengthAdjust="spacingAndGlyphs">Chr.20</text>
<text transform="translate(323,344.9) rotate(90)" font-size="6.6" font-family='"Liberation Sans", sans-serif' font-weight="bold" fill="#1a1a1a" stroke="#1a1a1a" stroke-width="0.08" textLength="15.6" lengthAdjust="spacingAndGlyphs">Chr.21</text>
<text transform="translate(337.45,344.9) rotate(90)" font-size="6.6" font-family='"Liberation Sans", sans-serif' font-weight="bold" fill="#1a1a1a" stroke="#1a1a1a" stroke-width="0.08" textLength="15.6" lengthAdjust="spacingAndGlyphs">Chr.22</text>
<text transform="translate(351.9,344.9) rotate(90)" font-size="6.6" font-family='"Liberation Sans", sans-serif' font-weight="bold" fill="#1a1a1a" stroke="#1a1a1a" stroke-width="0.08" textLength="13.6" lengthAdjust="spacingAndGlyphs">Chr.X</text>
<text x="195.5" y="373.8" font-size="9.6" font-family='"Liberation Serif", serif' font-weight="bold" textLength="20.8" lengthAdjust="spacingAndGlyphs" stroke="#000" stroke-width="0.26">UPD</text>
<rect x="263.8" y="203" width="40" height="30.2" fill="#fff" stroke="#9a9a9a" stroke-width="0.8"/>
<rect x="274" y="206.2" width="2.4" height="3.2" fill="#99cc00" stroke="#000" stroke-width="0.6"/>
<rect x="274" y="216.2" width="2.4" height="3" fill="#ff6600" stroke="#000" stroke-width="0.6"/>
<rect x="274" y="225.8" width="2.4" height="3.2" fill="#333399" stroke="#000" stroke-width="0.6"/>
<text x="278.8" y="209.8" font-size="6.2" font-family='"Liberation Sans", sans-serif' font-weight="bold" textLength="15" lengthAdjust="spacingAndGlyphs" stroke="#000" stroke-width="0.26">q arm</text>
<text x="278.8" y="219.6" font-size="6.2" font-family='"Liberation Sans", sans-serif' font-weight="bold" textLength="15" lengthAdjust="spacingAndGlyphs" stroke="#000" stroke-width="0.26">p arm</text>
<text x="278.8" y="229.4" font-size="6.2" font-family='"Liberation Sans", sans-serif' font-weight="bold" textLength="15.8" lengthAdjust="spacingAndGlyphs" stroke="#000" stroke-width="0.26">Whole</text>
<text x="375.8" y="8.4" font-size="10.4" font-family='"Liberation Sans", sans-serif' font-weight="bold" textLength="7.6" lengthAdjust="spacingAndGlyphs" stroke="#000" stroke-width="0.35">C</text>
<rect x="460.2" y="10.2" width="14" height="4.3" fill="#ccffcc" stroke="#2e7d32" stroke-width="0.8"/>
<rect x="460.2" y="19.2" width="14" height="4.5" fill="#0a6e1a" stroke="#003300" stroke-width="0.8"/>
<text x="476.9" y="14.9" font-size="7.2" font-family='"Liberation Serif", serif' font-weight="bold" textLength="26" lengthAdjust="spacingAndGlyphs" stroke="#000" stroke-width="0.26">non-HD</text>
<text x="492.1" y="24" font-size="7.6" font-family='"Liberation Serif", serif' font-weight="bold" textLength="10.8" lengthAdjust="spacingAndGlyphs" stroke="#000" stroke-width="0.26">HD</text>
<text x="385.3" y="34" font-size="7.8" font-family='"Liberation Serif", serif' font-weight="bold" textLength="16.7" lengthAdjust="spacingAndGlyphs" stroke="#000" stroke-width="0.26">cases</text>
<line x1="402.5" y1="149.5" x2="506" y2="149.5" stroke="#a0a0a0" stroke-width="1"/>
<text x="394.9" y="152.1" font-size="7.6" font-family='"Liberation Serif", serif' textLength="3.5" lengthAdjust="spacingAndGlyphs" stroke="#000" stroke-width="0.12">0</text>
<line x1="402.5" y1="134.21" x2="506" y2="134.21" stroke="#c2c2c2" stroke-width="1"/>
<text x="391.4" y="136.81" font-size="7.6" font-family='"Liberation Serif", serif' textLength="7" lengthAdjust="spacingAndGlyphs" stroke="#000" stroke-width="0.12">10</text>
<line x1="402.5" y1="118.93" x2="506" y2="118.93" stroke="#c2c2c2" stroke-width="1"/>
<text x="391.4" y="121.53" font-size="7.6" font-family='"Liberation Serif", serif' textLength="7" lengthAdjust="spacingAndGlyphs" stroke="#000" stroke-width="0.12">20</text>
<line x1="402.5" y1="103.64" x2="506" y2="103.64" stroke="#c2c2c2" stroke-width="1"/>
<text x="391.4" y="106.24" font-size="7.6" font-family='"Liberation Serif", serif' textLength="7" lengthAdjust="spacingAndGlyphs" stroke="#000" stroke-width="0.12">30</text>
<line x1="402.5" y1="88.36" x2="506" y2="88.36" stroke="#c2c2c2" stroke-width="1"/>
<text x="391.4" y="90.96" font-size="7.6" font-family='"Liberation Serif", serif' textLength="7" lengthAdjust="spacingAndGlyphs" stroke="#000" stroke-width="0.12">40</text>
<line x1="402.5" y1="73.07" x2="506" y2="73.07" stroke="#c2c2c2" stroke-width="1"/>
<text x="391.4" y="75.67" font-size="7.6" font-family='"Liberation Serif", serif' textLength="7" lengthAdjust="spacingAndGlyphs" stroke="#000" stroke-width="0.12">50</text>
<line x1="402.5" y1="57.78" x2="506" y2="57.78" stroke="#c2c2c2" stroke-width="1"/>
<text x="391.4" y="60.38" font-size="7.6" font-family='"Liberation Serif", serif' textLength="7" lengthAdjust="spacingAndGlyphs" stroke="#000" stroke-width="0.12">60</text>
<line x1="402.5" y1="42.5" x2="506" y2="42.5" stroke="#c2c2c2" stroke-width="1"/>
<text x="391.4" y="45.1" font-size="7.6" font-family='"Liberation Serif", serif' textLength="7" lengthAdjust="spacingAndGlyphs" stroke="#000" stroke-width="0.12">70</text>
<rect x="417.6" y="89.73" width="21.5" height="7.34" fill="#ccffcc"/>
<rect x="417.6" y="97.07" width="21.5" height="52.43" fill="#08801c"/>
<line x1="417.6" y1="97.07" x2="439.1" y2="97.07" stroke="#024010" stroke-width="0.7"/>
<rect x="417.6" y="89.73" width="21.5" height="59.77" fill="none" stroke="#6a6a6a" stroke-width="0.5"/>
<rect x="469.6" y="52.89" width="21.5" height="73.53" fill="#ccffcc"/>
<rect x="469.6" y="126.42" width="21.5" height="23.08" fill="#08801c"/>
<line x1="469.6" y1="126.42" x2="491.1" y2="126.42" stroke="#024010" stroke-width="0.7"/>
<rect x="469.6" y="52.89" width="21.5" height="96.61" fill="none" stroke="#6a6a6a" stroke-width="0.5"/>
<text x="427.7" y="159.8" font-size="7" font-family='"Liberation Serif", serif' font-weight="bold" text-anchor="middle" textLength="16.6" lengthAdjust="spacingAndGlyphs" stroke="#000" stroke-width="0.26">Whole</text>
<text x="429.5" y="167.4" font-size="7" font-family='"Liberation Serif", serif' font-weight="bold" text-anchor="middle" textLength="49.4" lengthAdjust="spacingAndGlyphs" stroke="#000" stroke-width="0.26">Chromosome UPD</text>
<text x="481" y="159.8" font-size="7" font-family='"Liberation Serif", serif' font-weight="bold" text-anchor="middle" textLength="18.5" lengthAdjust="spacingAndGlyphs" stroke="#000" stroke-width="0.26">Partial</text>
<text x="484.5" y="167.4" font-size="7" font-family='"Liberation Serif", serif' font-weight="bold" text-anchor="middle" textLength="49.4" lengthAdjust="spacingAndGlyphs" stroke="#000" stroke-width="0.26">Chromosome UPD</text>
<text x="375.8" y="190.8" font-size="10.4" font-family='"Liberation Sans", sans-serif' font-weight="bold" textLength="7.2" lengthAdjust="spacingAndGlyphs" stroke="#000" stroke-width="0.35">D</text>
<rect x="437" y="199.8" width="14.6" height="4.7" fill="#993366" stroke="#3a1028" stroke-width="0.8"/>
<rect x="437" y="208.2" width="14.6" height="4.8" fill="#ff99cc" stroke="#5a2040" stroke-width="0.8"/>
<text x="456" y="204.6" font-size="7.7" font-family='"Liberation Serif", serif' font-weight="bold" textLength="64.5" lengthAdjust="spacingAndGlyphs" stroke="#000" stroke-width="0.26">p16INK4A deletion</text>
<text x="456" y="213.2" font-size="7.7" font-family='"Liberation Serif", serif' font-weight="bold" textLength="56.7" lengthAdjust="spacingAndGlyphs" stroke="#000" stroke-width="0.26">p16INK4A intact</text>
<text x="388.4" y="216.8" font-size="7.8" font-family='"Liberation Serif", serif' font-weight="bold" textLength="16.6" lengthAdjust="spacingAndGlyphs" stroke="#000" stroke-width="0.26">cases</text>
<line x1="407" y1="332.5" x2="496" y2="332.5" stroke="#a0a0a0" stroke-width="1"/>
<text x="397.7" y="335.7" font-size="7.8" font-family='"Liberation Serif", serif' textLength="3.6" lengthAdjust="spacingAndGlyphs" stroke="#000" stroke-width="0.12">0</text>
<line x1="407" y1="305.7" x2="496" y2="305.7" stroke="#c2c2c2" stroke-width="1"/>
<text x="393.8" y="308.9" font-size="7.8" font-family='"Liberation Serif", serif' textLength="7.5" lengthAdjust="spacingAndGlyphs" stroke="#000" stroke-width="0.12">10</text>
<line x1="407" y1="278.9" x2="496" y2="278.9" stroke="#c2c2c2" stroke-width="1"/>
<text x="393.8" y="282.1" font-size="7.8" font-family='"Liberation Serif", serif' textLength="7.5" lengthAdjust="spacingAndGlyphs" stroke="#000" stroke-width="0.12">20</text>
<line x1="407" y1="252.1" x2="496" y2="252.1" stroke="#c2c2c2" stroke-width="1"/>
<text x="393.8" y="255.3" font-size="7.8" font-family='"Liberation Serif", serif' textLength="7.5" lengthAdjust="spacingAndGlyphs" stroke="#000" stroke-width="0.12">30</text>
<line x1="407" y1="225.3" x2="496" y2="225.3" stroke="#c2c2c2" stroke-width="1"/>
<text x="393.8" y="228.5" font-size="7.8" font-family='"Liberation Serif", serif' textLength="7.5" lengthAdjust="spacingAndGlyphs" stroke="#000" stroke-width="0.12">40</text>
<rect x="420.6" y="252.1" width="17.8" height="18.76" fill="#fd98cc"/>
<rect x="420.6" y="270.86" width="17.8" height="61.64" fill="#9c3068"/>
<line x1="420.6" y1="270.86" x2="438.4" y2="270.86" stroke="#4a1030" stroke-width="0.7"/>
<rect x="420.6" y="252.1" width="17.8" height="80.4" fill="none" stroke="#5a2a40" stroke-width="0.6"/>
<rect x="465" y="284.26" width="17.8" height="45.56" fill="#fd98cc"/>
<rect x="465" y="329.82" width="17.8" height="2.68" fill="#9c3068"/>
<line x1="465" y1="329.82" x2="482.8" y2="329.82" stroke="#4a1030" stroke-width="0.7"/>
<rect x="465" y="284.26" width="17.8" height="48.24" fill="none" stroke="#5a2a40" stroke-width="0.6"/>
<text x="429.3" y="344.5" font-size="7.4" font-family='"Liberation Serif", serif' font-weight="bold" text-anchor="middle" textLength="7.6" lengthAdjust="spacingAndGlyphs" stroke="#000" stroke-width="0.26">9p</text>
<text x="428.9" y="354.1" font-size="7.4" font-family='"Liberation Serif", serif' font-weight="bold" text-anchor="middle" textLength="15.3" lengthAdjust="spacingAndGlyphs" stroke="#000" stroke-width="0.26">UPD</text>
<text x="476.5" y="343.1" font-size="7.4" font-family='"Liberation Serif", serif' font-weight="bold" text-anchor="middle" textLength="21.5" lengthAdjust="spacingAndGlyphs" stroke="#000" stroke-width="0.26">Whole</text>
<text x="475.8" y="352.8" font-size="7.4" font-family='"Liberation Serif", serif' font-weight="bold" text-anchor="middle" textLength="50" lengthAdjust="spacingAndGlyphs" stroke="#000" stroke-width="0.26">Chromosome 9</text>
<text x="476.4" y="361.8" font-size="7.4" font-family='"Liberation Serif", serif' font-weight="bold" text-anchor="middle" textLength="15.3" lengthAdjust="spacingAndGlyphs" stroke="#000" stroke-width="0.26">UPD</text>
</svg>
</body></html>
